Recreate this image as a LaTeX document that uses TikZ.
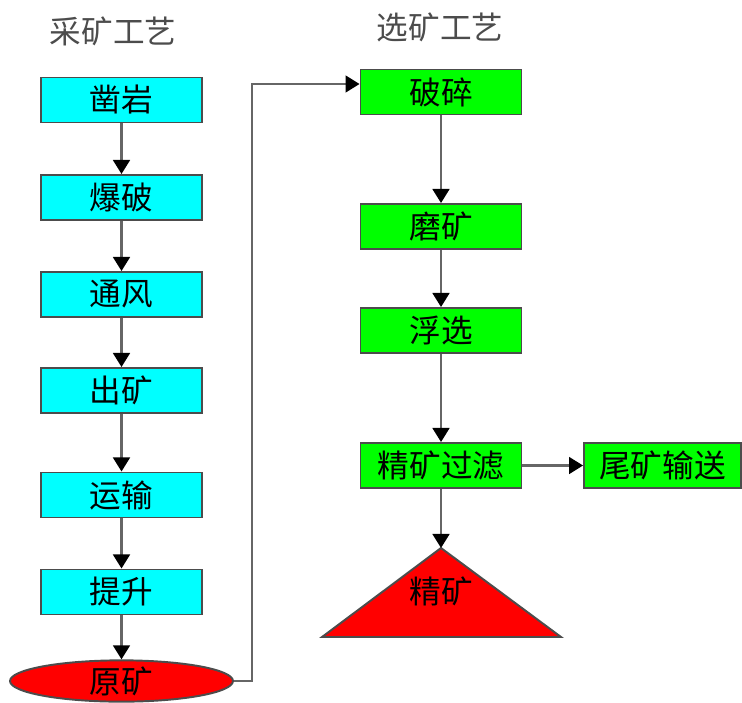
\documentclass[tikz,border=0pt]{standalone}
\usepackage{fontspec}
\setmainfont{Noto Sans CJK SC}
\usetikzlibrary{arrows.meta,shapes.geometric}
\definecolor{boxcyan}{RGB}{0,255,255}
\definecolor{boxgreen}{RGB}{0,255,0}
\definecolor{orered}{RGB}{255,0,0}
\tikzset{
	step box/.style={draw=black!70,line width=1.1pt,fill=boxcyan,
			minimum width=3.22cm,minimum height=0.9cm,inner sep=0pt,
			font=\fontsize{18}{18}\selectfont},
	dress box/.style={step box,fill=boxgreen},
	ore/.style={draw=black!70,line width=1.1pt,fill=orered},
	title/.style={text=black!70,font=\fontsize{18}{18}\selectfont},
	flow/.style={draw=black!60,line width=1.5pt,
			-{Triangle[width=9.5pt,length=8pt,color=black]}}
}

\begin{document}
\begin{tikzpicture}[x=0.02cm,y=-0.02cm]
	\useasboundingbox (0,0) rectangle (742,702);
	% titles
	\node[title] (mtitle) at (113,31) {采矿工艺};
	\node[title] (dtitle) at (440,27) {选矿工艺};
	% mining
	\node[step box] (drill) at (121.5,100) {凿岩};
	\node[step box] (blast) at (121.5,197.5) {爆破};
	\node[step box] (vent) at (121.5,294.5) {通风};
	\node[step box] (muck) at (121.5,390.5) {出矿};
	\node[step box] (haul) at (121.5,495) {运输};
	\node[step box] (hoist) at (121.5,592) {提升};
	\node[ore,ellipse,minimum width=4.46cm,minimum height=0.82cm,inner sep=0pt,
		font=\fontsize{18}{18}\selectfont] (raw) at (121.5,681) {原矿};
	% dressing
	\node[dress box] (crush) at (441,92) {破碎};
	\node[dress box] (grind) at (441,226.5) {磨矿};
	\node[dress box] (float) at (441,330.5) {浮选};
	\node[dress box] (filter) at (441,465.5) {精矿过滤};
	\node[dress box,minimum width=3.14cm] (tail) at (662.5,465.5) {尾矿输送};
	% concentrate pile
	\coordinate (apex) at (441,548);
	\draw[ore] (apex) -- (561,637) -- (322,637) -- cycle;
	\node[font=\fontsize{18}{18}\selectfont] (conc) at (441.5,591) {精矿};
	% connectors
	\foreach \a/\b in {drill/blast,blast/vent,vent/muck,muck/haul,haul/hoist,hoist/raw,
			crush/grind,grind/float,float/filter,filter/tail}
		\draw[flow] (\a) -- (\b);
	\draw[flow] (filter) -- (apex);
	\draw[flow] (raw.east) -| (252,84) -- (crush.west |- 0,84);
\end{tikzpicture}
\end{document}
